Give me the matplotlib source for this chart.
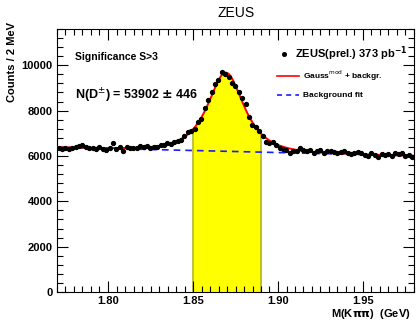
import numpy as np
import matplotlib
matplotlib.use("Agg")
import matplotlib.pyplot as plt
from matplotlib.ticker import MultipleLocator, FixedLocator, FixedFormatter

plt.rcParams['font.family'] = ['Liberation Sans', 'DejaVu Sans']

# ---- data: M(K pi pi) bin centres (GeV) and counts per 2 MeV ----
mass_lo = 1.771
bin_width = 0.002
counts = [
    6340, 6300, 6330, 6290, 6360, 6400, 6440, 6500, 6380, 6370,
    6330, 6290, 6380, 6310, 6270, 6340, 6560, 6300, 6390, 6240,
    6380, 6360, 6370, 6350, 6420, 6380, 6440, 6340, 6390, 6410,
    6470, 6480, 6560, 6520, 6620, 6650, 6710, 6870, 7077, 7120,
    7180, 7520, 7625, 8100, 8450, 8800, 9183, 9330, 9700, 9625,
    9480, 9215, 9095, 8843, 8552, 8287, 7740, 7350, 7260, 7110,
    6900, 6600, 6590, 6600, 6500, 6330, 6320, 6280, 6130, 6220,
    6210, 6370, 6250, 6230, 6250, 6120, 6220, 6260, 6150, 6200,
    6200, 6190, 6110, 6170, 6230, 6120, 6100, 6110, 6180, 6120,
    6050, 6000, 6140, 6060, 5970, 6070, 6030, 6090, 5990, 6120,
    6080, 6110, 6010, 6050, 5960,
]
mass = [mass_lo + bin_width * i for i in range(len(counts))]

# ---- fit parameters (Gauss^mod + linear background) ----
fit_amp = 3470.0
fit_mean = 1.8693
fit_sigma = 0.0102
bg_at_start = 6385.0
bg_slope = -1800.0
bg_start = 1.77
signal_window = [1.85, 1.89]

xlim = [1.77, 1.98]
ylim = [0, 11600]
xticks = [1.80, 1.85, 1.90, 1.95]
xticklabels = ["1.80", "1.85", "1.90", "1.95"]
yticks = [0, 2000, 4000, 6000, 8000, 10000]


def background(m):
    return bg_at_start + bg_slope * (m - bg_start)


def gauss_mod(m):
    t = np.abs((m - fit_mean) / fit_sigma)
    return fit_amp * np.exp(-0.5 * t ** (1.0 + 1.0 / (1.0 + 0.5 * t)))


fig = plt.figure(figsize=(4.16, 3.22), dpi=100)
ax = fig.add_axes([57 / 416, 30 / 322, (414 - 57) / 416, (292 - 29) / 322])

mgrid = np.linspace(xlim[0], xlim[1], 600)
total = background(mgrid) + gauss_mod(mgrid)

# yellow signal window
mw = np.linspace(signal_window[0], signal_window[1], 200)
ax.fill_between(mw, 0, background(mw) + gauss_mod(mw), color='#ffff00', lw=0, zorder=1)
for edge in signal_window:
    ax.plot([edge, edge], [0, background(edge) + gauss_mod(edge)], color='#b5b520', lw=1.2, zorder=1.5)

ax.plot(mgrid, background(mgrid), color='#1a1aff', lw=1.2, ls=(0, (4, 3)), zorder=2)
ax.plot(mgrid, total, color='#ff0000', lw=1.4, zorder=3)
ax.plot(mass, counts, 'o', color='black', ms=2.8, zorder=4)

ax.set_xlim(*xlim)
ax.set_ylim(*ylim)
ax.xaxis.set_major_locator(FixedLocator(xticks))
ax.xaxis.set_major_formatter(FixedFormatter(xticklabels))
ax.xaxis.set_minor_locator(MultipleLocator(0.005))
ax.set_yticks(yticks)
ax.yaxis.set_minor_locator(MultipleLocator(400))
ax.tick_params(which='both', direction='in', top=True, right=True, width=0.8, color='black')
ax.tick_params(which='major', length=8, labelsize=8, pad=3)
ax.tick_params(which='minor', length=4)
for lab in ax.get_xticklabels() + ax.get_yticklabels():
    lab.set_fontweight('bold')
for s in ax.spines.values():
    s.set_linewidth(0.8)

fig.text(236 / 416, 1 - 13 / 322, "ZEUS", ha='center', va='center', fontsize=10)
fig.text(12 / 416, 1 - 62 / 322, "Counts / 2 MeV", rotation=90, ha='center', va='center',
         fontsize=8, fontweight='bold')
fig.text(411 / 416, 1 - 314 / 322, r"M(K$\mathbf{\pi\pi}$)  (GeV)", ha='right', va='center',
         fontsize=8, fontweight='bold')

ax.text(0.05, 0.895, "Significance S>3", transform=ax.transAxes, fontsize=7.5,
        fontweight='bold', va='center')
ax.text(0.05, 0.745, r"N(D$^{\pm}$) = 53902 $\mathbf{\pm}$ 446", transform=ax.transAxes,
        fontsize=9, fontweight='bold', va='center')

# legend
ax.plot([0.635], [0.905], 'o', color='black', ms=2.6, transform=ax.transAxes)
ax.text(0.668, 0.905, r"ZEUS(prel.) 373 pb$^{\mathbf{-1}}$", transform=ax.transAxes,
        fontsize=8, fontweight='bold', va='center')
ax.plot([0.615, 0.678], [0.822, 0.822], color='#ff0000', lw=1.2, transform=ax.transAxes)
ax.text(0.69, 0.822, r"Gauss$^{\mathrm{mod}}$ + backgr.", transform=ax.transAxes,
        fontsize=6, fontweight='bold', va='center')
ax.plot([0.615, 0.678], [0.748, 0.748], color='#1a1aff', lw=1.2, ls=(0, (3, 2.5)),
        transform=ax.transAxes)
ax.text(0.69, 0.748, "Background fit", transform=ax.transAxes,
        fontsize=6, fontweight='bold', va='center')

fig.savefig("out.png", dpi=100)
